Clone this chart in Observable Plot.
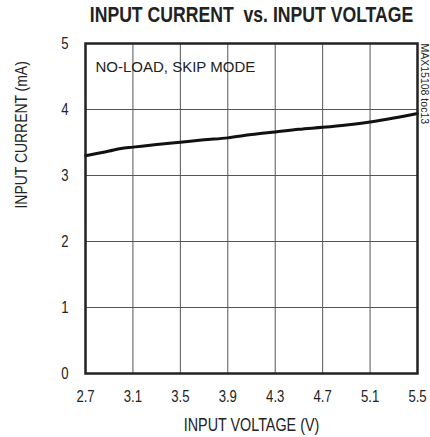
<!DOCTYPE html>
<html><head><meta charset="utf-8">
<script src="https://cdn.jsdelivr.net/npm/d3@7"></script>
<script src="https://cdn.jsdelivr.net/npm/@observablehq/plot@0.6"></script>
<style>body{margin:0;background:#fff}</style>
</head><body><div id="chart"></div>
<script>
const voltage = [2.7, 2.9, 3.0, 3.1, 3.3, 3.5, 3.7, 3.9, 4.1, 4.3, 4.5, 4.7, 4.9, 5.1, 5.3, 5.5];
const current = [3.30, 3.37, 3.41, 3.43, 3.47, 3.505, 3.54, 3.57, 3.62, 3.66, 3.70, 3.73, 3.765, 3.81, 3.87, 3.94];
const xTicks = [2.7, 3.1, 3.5, 3.9, 4.3, 4.7, 5.1, 5.5];
const yTicks = [0, 1, 2, 3, 4, 5];
const title = "INPUT CURRENT\u00a0 vs. INPUT VOLTAGE";
const xLabel = "INPUT VOLTAGE (V)";
const yLabel = "INPUT CURRENT (mA)";
const note = "NO-LOAD, SKIP MODE";
const sideNote = "MAX15108 toc13";

const data = voltage.map((v, i) => ({v, c: current[i]}));
const font = "'Liberation Sans',Arial,sans-serif";

const plot = Plot.plot({
  width: 430, height: 437,
  marginLeft: 85, marginRight: 13, marginTop: 43, marginBottom: 64,
  style: {fontFamily: font, fontSize: "16px", background: "#fff", color: "#222"},
  x: {domain: [2.7, 5.5], label: null},
  y: {domain: [0, 5], label: null},
  marks: [
    Plot.gridX(xTicks, {stroke: "#555", strokeOpacity: 1, strokeWidth: 1}),
    Plot.gridY(yTicks, {stroke: "#555", strokeOpacity: 1, strokeWidth: 1}),
    Plot.line(data, {x: "v", y: "c", stroke: "#111", strokeWidth: 3, curve: "monotone-x"}),
    Plot.frame({stroke: "#222", strokeWidth: 2.5}),
    Plot.axisX(xTicks, {tickSize: 0, tickPadding: 17, fontSize: 16, tickFormat: d => d.toFixed(1), fill: "#222"}),
    Plot.axisY(yTicks, {tickSize: 0, tickPadding: 17, fontSize: 16, tickFormat: d => String(d), fill: "#222"}),
    Plot.text([title], {frameAnchor: "top", dy: -28, lineAnchor: "middle", fontWeight: "bold", fontSize: 21.5, fill: "#222"}),
    Plot.text([xLabel], {frameAnchor: "bottom", dy: 52, lineAnchor: "middle", fontSize: 17.5, fill: "#222"}),
    Plot.text([yLabel], {frameAnchor: "left", dx: -64, rotate: -90, lineAnchor: "middle", fontSize: 17, fill: "#222"}),
    Plot.text([note], {frameAnchor: "top-left", dx: 10, dy: 23.5, textAnchor: "start", lineAnchor: "middle", fontSize: 15, fill: "#222"}),
    Plot.text([sideNote], {frameAnchor: "top-right", dx: 7, dy: 0, rotate: 90, textAnchor: "start", lineAnchor: "middle", fontSize: 10.5, fill: "#222"})
  ]
});
document.getElementById("chart").appendChild(plot);

// emulate a condensed (narrow) face for the title, ticks and axis labels
plot.querySelectorAll("text").forEach(t => {
  const s = t.textContent;
  if (s === note || s === sideNote) return;
  const b = t.getBBox();
  const anchor = getComputedStyle(t).textAnchor;
  const cx = anchor === "start" ? b.x : anchor === "end" ? b.x + b.width : b.x + b.width / 2;
  const tr = t.getAttribute("transform") || "";
  t.setAttribute("transform", `${tr} translate(${cx},0) scale(0.82,1) translate(${-cx},0)`.trim());
});
</script>
</body></html>
